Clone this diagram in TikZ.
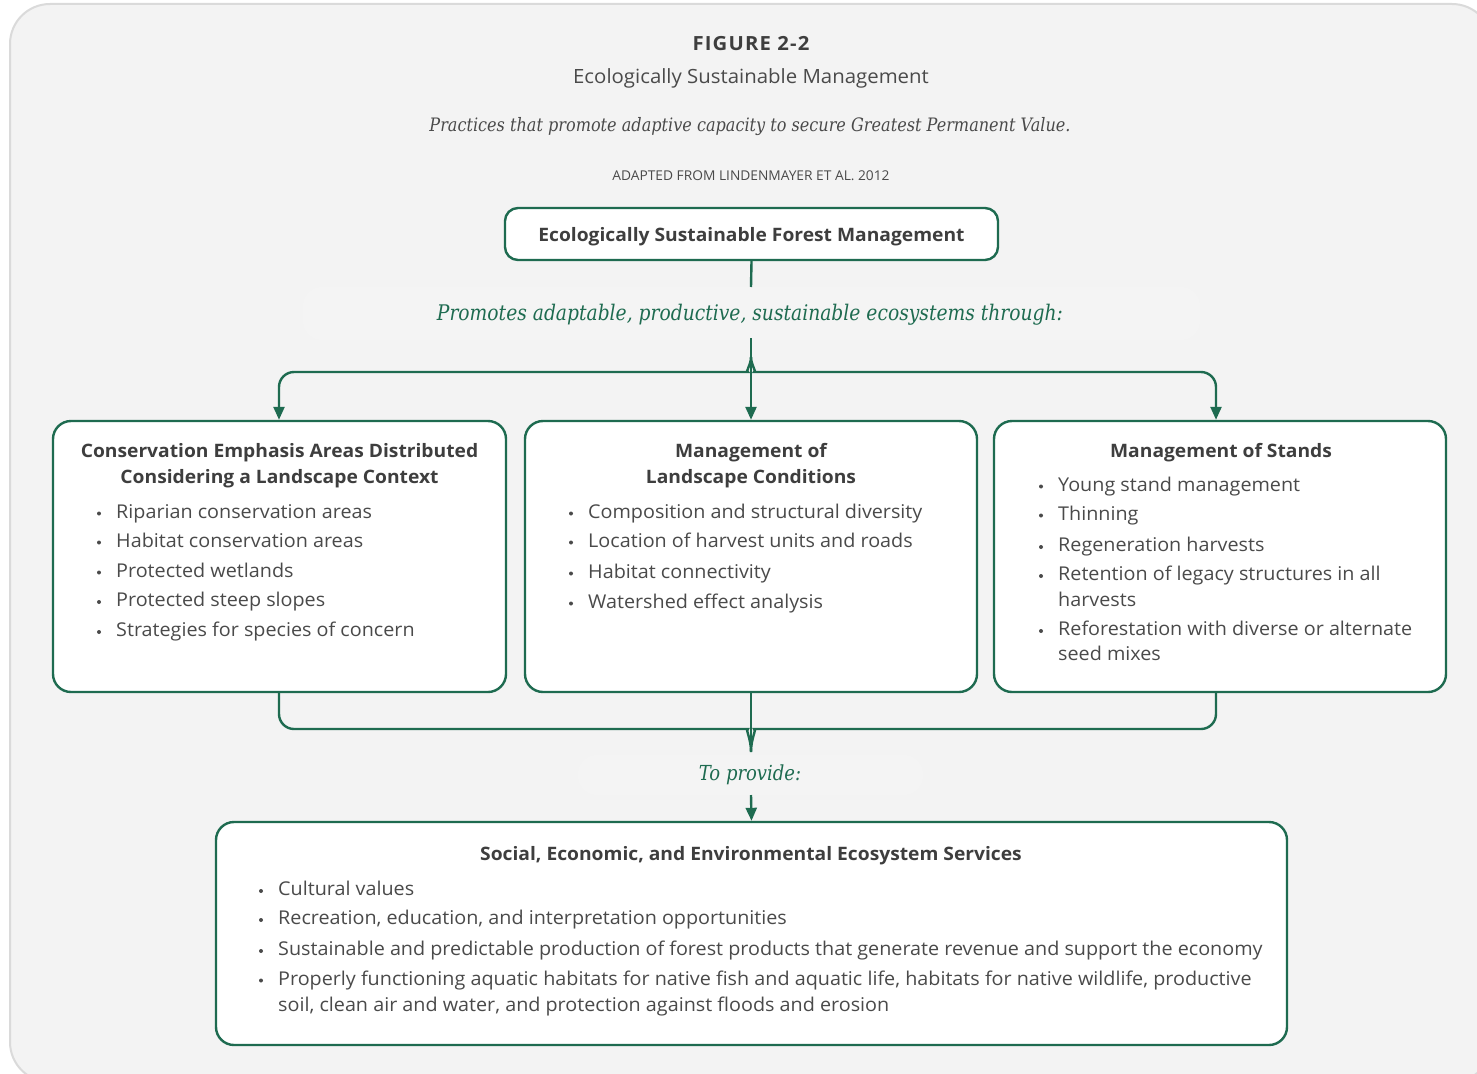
\documentclass[tikz,border=0pt]{standalone}
\usepackage{fontspec}
\setmainfont{Open Sans}[FakeStretch=1.04]
\newfontfamily\serifit{DejaVu Serif}[FakeStretch=0.87]
\usetikzlibrary{arrows.meta}
\definecolor{framec}{HTML}{DADADA}
\definecolor{bgc}{HTML}{F3F3F3}
\definecolor{grn}{HTML}{1E6B50}
\definecolor{txt}{HTML}{4A4A4A}
\definecolor{hd}{HTML}{3E3E3E}
\newcommand\bul[4]{%
  \node[itm] (#1) at (#2,#3) {#4};
  \fill[txt] (#2-17,#3-4.5) circle (2);}
\begin{document}
\begin{tikzpicture}[x=1pt,y=-1pt,
  box/.style={draw=grn, line width=2.4pt, fill=white, rounded corners=18pt, inner sep=0pt},
  conn/.style={draw=grn, line width=2.4pt},
  arr/.style={-{Triangle[length=13pt,width=11pt]}},
  hdg/.style={font=\bfseries\fontsize{18.5}{24}\selectfont, text=hd, inner sep=0pt, anchor=base},
  itm/.style={font=\fontsize{19}{24}\selectfont, text=txt, inner sep=0pt, anchor=base west},
  grnit/.style={font=\serifit\itshape\fontsize{21.5}{24}\selectfont, text=grn, inner sep=0pt, anchor=base},
  band/.style={fill=white, fill opacity=0.15, rounded corners=20pt}]
\useasboundingbox (0,0) rectangle (1477,1073);
\fill[white] (0,0) rectangle (1477,1073);
\draw[framec, fill=bgc, line width=2pt, rounded corners=40pt] (10,4) rectangle (1492,1082);
% faint bands
\fill[band] (303,287) rectangle (1200,340);
\fill[band] (578,755) rectangle (923,795);
% titles
\node[font=\bfseries\fontsize{19.5}{24}\selectfont\addfontfeatures{LetterSpace=6}, text=hd, anchor=base, inner sep=0pt] (fig) at (751,51) {FIGURE 2-2};
\node[font=\fontsize{19.6}{24}\selectfont, text=txt, anchor=base, inner sep=0pt] (sub) at (751,84) {Ecologically Sustainable Management};
\node[font=\serifit\itshape\fontsize{18.5}{22}\selectfont, text=txt, anchor=base, inner sep=0pt] (prac) at (750,131) {Practices that promote adaptive capacity to secure Greatest Permanent Value.};
\node[font=\fontsize{13.5}{16}\selectfont, text=txt, anchor=base, inner sep=0pt] (adapt) at (751,180) {\scalebox{0.98}[1]{ADAPTED FROM LINDENMAYER ET AL. 2012}};
% top box
\node[box, rounded corners=13pt, minimum width=493pt, minimum height=52pt] (esfm) at (751.5,234) {};
\node[hdg] (esfmt) at (751.5,241.5) {Ecologically Sustainable Forest Management};
\node[grnit] (prom) at (750,320) {Promotes adaptable, productive, sustainable ecosystems through:};
% boxes
\node[box, minimum width=453pt, minimum height=271pt] (cea) at (279.5,556.5) {};
\node[box, minimum width=452pt, minimum height=271pt] (mlc) at (751,556.5) {};
\node[box, minimum width=452pt, minimum height=271pt] (mos) at (1220,556.5) {};
\node[box, minimum width=1071pt, minimum height=223pt] (ses) at (751.5,933.5) {};
% connectors top
\coordinate (ttip) at (751,357);
\coordinate (tstem) at (751,338);
\draw[conn] (esfm.south) -- (751,287);
\draw[conn, arr] (tstem) -- (mlc.north);
\draw[conn, arr, rounded corners=15pt] (ttip) .. controls (751,365) and (745,372) .. (733,372) -- (279,372) -- (cea.north -| 279,0);
\draw[conn, arr, rounded corners=15pt] (ttip) .. controls (751,365) and (757,372) .. (769,372) -- (1216,372) -- (mos.north -| 1216,0);
% connectors bottom
\coordinate (btip) at (751,752);
\draw[conn, rounded corners=15pt] (cea.south -| 279,0) -- (279,729) -- (733,729) .. controls (745,729) and (751,738) .. (btip);
\draw[conn, rounded corners=15pt] (mos.south -| 1216,0) -- (1216,729) -- (769,729) .. controls (757,729) and (751,738) .. (btip);
\draw[conn] (mlc.south) -- (btip);
\node[grnit, font=\serifit\itshape\fontsize{20.7}{24}\selectfont] (prov) at (750,780) {To provide:};
\coordinate (pstem) at (751,795);
\draw[conn, arr] (pstem) -- (ses.north);
% headings
\node[hdg] (h1a) at (279.5,457) {Conservation Emphasis Areas Distributed};
\node[hdg] (h1b) at (279.5,483) {Considering a Landscape Context};
\node[hdg] (h2a) at (751,457) {Management of};
\node[hdg] (h2b) at (751,483) {Landscape Conditions};
\node[hdg] (h3) at (1221,457) {Management of Stands};
\node[hdg] (h4) at (751,860) {Social, Economic, and Environmental Ecosystem Services};
% left items
\bul{l1}{116}{518}{Riparian conservation areas}
\bul{l2}{116}{547}{Habitat conservation areas}
\bul{l3}{116}{577}{Protected wetlands}
\bul{l4}{116}{606.5}{Protected steep slopes}
\bul{l5}{116}{636.5}{Strategies for species of concern}
% middle items
\bul{m1}{588}{518}{Composition and structural diversity}
\bul{m2}{588}{547}{Location of harvest units and roads}
\bul{m3}{588}{578}{Habitat connectivity}
\bul{m4}{588}{608}{Watershed effect analysis}
% right items
\bul{r1}{1058}{491}{Young stand management}
\bul{r2}{1058}{520}{Thinning}
\bul{r3}{1058}{551.5}{Regeneration harvests}
\bul{r4}{1058}{580.5}{Retention of legacy structures in all}
\node[itm] (r4b) at (1058,606) {harvests};
\bul{r5}{1058}{635.5}{Reforestation with diverse or alternate}
\node[itm] (r5b) at (1058,660.5) {seed mixes};
% bottom items
\bul{b1}{278}{895.5}{Cultural values}
\bul{b2}{278}{924.5}{Recreation, education, and interpretation opportunities}
\bul{b3}{278}{955.5}{Sustainable and predictable production of forest products that generate revenue and support the economy}
\bul{b4}{278}{985}{Properly functioning aquatic habitats for native fish and aquatic life, habitats for native wildlife, productive}
\node[itm] (b4b) at (278,1011.5) {soil, clean air and water, and protection against floods and erosion};
\end{tikzpicture}
\end{document}
